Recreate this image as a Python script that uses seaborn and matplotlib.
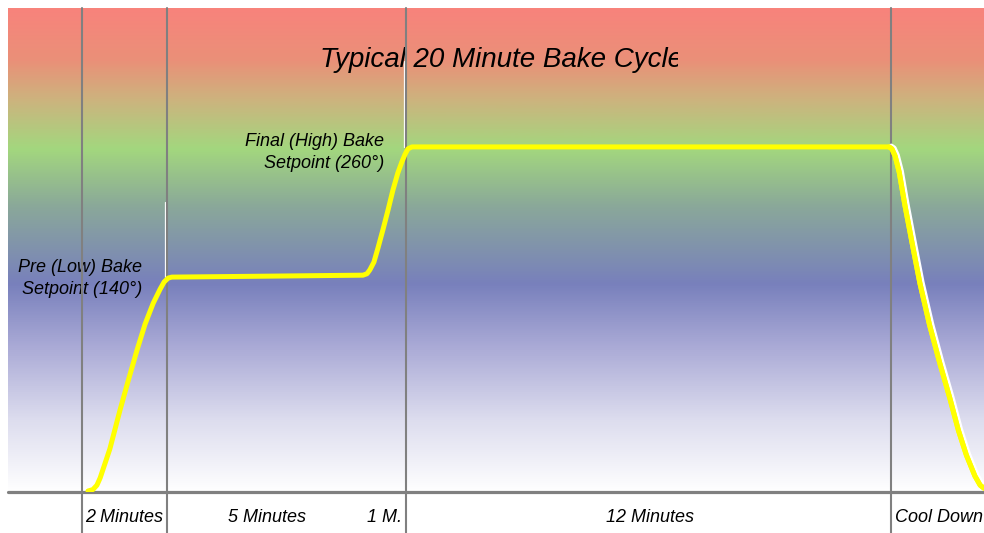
import matplotlib
matplotlib.use('Agg')
import matplotlib.pyplot as plt
import matplotlib.patheffects as pe
from matplotlib.colors import LinearSegmentedColormap
from matplotlib.transforms import Bbox, TransformedBbox
import numpy as np
import pandas as pd
import seaborn as sns

# time in minutes, heat level in % of chart height
ramp_up_t = [0.16, 0.28, 0.38, 0.46, 0.56, 0.70, 0.95, 1.15, 1.37, 1.57, 1.77, 1.94, 2.04, 2.14, 2.23]
ramp_up_y = [0.2, 0.5, 1.4, 2.9, 5.4, 8.9, 16.9, 22.9, 29.3, 34.7, 39.0, 41.9, 43.4, 44.2, 44.4]
low_hold_t = [4.65, 6.95, 7.05]
low_hold_y = [44.6, 44.8, 45.1]
ramp_final_t = [7.12, 7.22, 7.32, 7.44, 7.57, 7.69, 7.81, 7.91, 7.99, 8.06, 8.16]
ramp_final_y = [45.9, 47.5, 50.4, 54.1, 58.3, 62.4, 65.9, 68.2, 69.8, 70.9, 71.3]
high_hold_t = [19.94]
high_hold_y = [71.3]
cool_t = [20.01, 20.09, 20.19, 20.33, 20.51, 20.70, 20.94, 21.19, 21.44, 21.65, 21.85, 22.06, 22.19, 22.28]
cool_y = [70.9, 69.4, 66.1, 59.3, 51.4, 43.2, 34.5, 26.7, 19.4, 12.8, 7.6, 3.3, 1.4, 0.8]

phase_edges = [0, 2.1, 8, 20]
phase_labels = ['2 Minutes', '5 Minutes', '1 M.', '12 Minutes', 'Cool Down']

bg_stops = [0.0, 0.107, 0.19, 0.29, 0.41, 0.57, 0.70, 0.85, 1.0]
bg_colors = ['#F8837C', '#EA9078', '#CCB47E', '#A3D77E', '#8AA89A',
             '#7880BC', '#AAAAD6', '#DCDCEE', '#FFFFFF']

sns.set_style('white')
plt.rcParams['font.family'] = ['Liberation Sans', 'DejaVu Sans']
plt.rcParams['text.color'] = 'black'

fig = plt.figure(figsize=(9.84, 5.33), dpi=100)
ax = fig.add_axes([8 / 984, 41 / 533, 976 / 984, 484 / 533])
x0, x1 = -1.815, 22.284
ax.set_xlim(x0, x1)
ax.set_ylim(0, 100)
ax.set_axis_off()

cmap = LinearSegmentedColormap.from_list('bake', list(zip(bg_stops, bg_colors)))
grad = np.linspace(0, 1, 512).reshape(-1, 1)
ax.imshow(grad, cmap=cmap, aspect='auto', extent=[x0, x1, 0, 100], origin='upper', zorder=0)

for e in phase_edges:
    ax.plot([e, e], [100, -9], color='#808080', lw=1.5, clip_on=False, zorder=3)
ax.plot([x0, x1], [0, 0], color='#808080', lw=2.3, clip_on=False, zorder=3)

# small white highlights next to the setpoint corners
ax.plot([2.06, 2.06], [44.4, 60], color='white', lw=0.9, zorder=2)
ax.plot([7.96, 7.96], [71.3, 89], color='white', lw=0.9, zorder=2)

curve = pd.DataFrame({
    't': ramp_up_t + low_hold_t + ramp_final_t + high_hold_t + cool_t,
    'level': ramp_up_y + low_hold_y + ramp_final_y + high_hold_y + cool_y,
})
sns.lineplot(data=curve, x='t', y='level', color='#FFFF00', lw=3.6, ax=ax,
             solid_capstyle='round', solid_joinstyle='round', zorder=5, sort=False)
cool = pd.DataFrame({'t': [high_hold_t[0]] + cool_t, 'level': [high_hold_y[0]] + cool_y})
sns.lineplot(data=cool, x='t', y='level', color='#FFFF00', lw=3.6, ax=ax, zorder=4,
             solid_capstyle='round', sort=False,
             path_effects=[pe.SimpleLineShadow(offset=(1.6, 0.6), shadow_color='white', alpha=1.0),
                           pe.Normal()])

def clipped(txt, xmax):
    txt.set_clip_box(TransformedBbox(Bbox([[x0, -20], [xmax, 110]]), ax.transData))
    txt.set_clip_on(True)

title = ax.text(5.89, 89.3, 'Typical 20 Minute Bake Cycle', fontsize=20, style='italic',
                ha='left', va='center', zorder=2)
clipped(title, 14.72)

ax.text(1.5, low_hold_y[0] - 0.5, 'Pre (Low) Bake\nSetpoint (140°)', fontsize=13, style='italic',
        ha='right', va='center', linespacing=1.4, zorder=2)
ax.text(7.47, 70.2, 'Final (High) Bake\nSetpoint (260°)', fontsize=13, style='italic',
        ha='right', va='center', linespacing=1.4, zorder=2)

yb = -5.2
ax.text(0.09, yb, phase_labels[0], fontsize=13, style='italic', ha='left', va='center', clip_on=False)
t5 = ax.text(4.58, yb, phase_labels[1], fontsize=13, style='italic', ha='center', va='center')
clipped(t5, 5.54)
ax.text(7.91, yb, phase_labels[2], fontsize=13, style='italic', ha='right', va='center', clip_on=False)
ax.text(14.04, yb, phase_labels[3], fontsize=13, style='italic', ha='center', va='center', clip_on=False)
ax.text(20.09, yb, phase_labels[4], fontsize=13, style='italic', ha='left', va='center', clip_on=False)

fig.savefig('out.png', dpi=100)
